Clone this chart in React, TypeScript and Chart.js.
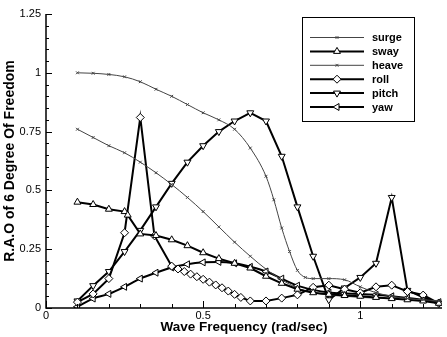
import React, { useEffect, useRef } from 'react';
import { Chart, registerables } from 'chart.js';
import { drawPoint } from 'chart.js/helpers';

Chart.register(...registerables);

// ---- data (wave frequency rad/sec, RAO) ----
const xTickValues = [0, 0.5, 1];
const yTickValues = [0, 0.25, 0.5, 0.75, 1, 1.25];
const seriesNames = ['surge', 'sway', 'heave', 'roll', 'pitch', 'yaw'];

const surge: number[][] = [
  [0.1, 1.0], [0.15, 0.998], [0.2, 0.993], [0.25, 0.983], [0.3, 0.962], [0.35, 0.93],
  [0.4, 0.9], [0.45, 0.865], [0.5, 0.83], [0.55, 0.8], [0.6, 0.76], [0.65, 0.68],
  [0.7, 0.56], [0.725, 0.46], [0.75, 0.34], [0.775, 0.24], [0.8, 0.16], [0.825, 0.13],
  [0.85, 0.125], [0.9, 0.125], [0.95, 0.12], [1.0, 0.09], [1.05, 0.065], [1.1, 0.05],
  [1.15, 0.04], [1.2, 0.035], [1.25, 0.03],
];
const sway: number[][] = [
  [0.1, 0.45], [0.15, 0.44], [0.2, 0.42], [0.25, 0.41], [0.26, 0.395], [0.3, 0.315],
  [0.35, 0.308], [0.4, 0.29], [0.45, 0.265], [0.5, 0.235], [0.55, 0.21], [0.6, 0.19],
  [0.65, 0.17], [0.7, 0.135], [0.75, 0.105], [0.8, 0.08], [0.85, 0.065], [0.9, 0.058],
  [0.95, 0.053], [1.0, 0.05], [1.05, 0.045], [1.1, 0.04], [1.15, 0.035], [1.2, 0.03],
  [1.25, 0.02],
];
const heave: number[][] = [
  [0.1, 0.76], [0.15, 0.725], [0.2, 0.69], [0.25, 0.66], [0.3, 0.62], [0.35, 0.575],
  [0.4, 0.525], [0.45, 0.47], [0.5, 0.41], [0.55, 0.345], [0.6, 0.28], [0.65, 0.22],
  [0.7, 0.165], [0.75, 0.12], [0.8, 0.085], [0.85, 0.065], [0.9, 0.055], [0.95, 0.05],
  [1.0, 0.045], [1.05, 0.042], [1.1, 0.04], [1.15, 0.035], [1.2, 0.03], [1.25, 0.025],
];
const roll: number[][] = [
  [0.1, 0.025], [0.15, 0.06], [0.2, 0.125], [0.25, 0.32], [0.3, 0.81], [0.345, 0.307],
  [0.4, 0.178], [0.42, 0.166], [0.44, 0.155], [0.46, 0.144], [0.48, 0.133], [0.5, 0.122],
  [0.52, 0.11], [0.54, 0.098], [0.56, 0.086], [0.58, 0.072], [0.6, 0.058], [0.62, 0.045],
  [0.65, 0.03], [0.7, 0.03], [0.75, 0.042], [0.8, 0.056], [0.85, 0.088], [0.9, 0.097],
  [0.95, 0.08], [1.0, 0.065], [1.05, 0.09], [1.1, 0.097], [1.15, 0.07], [1.2, 0.055],
  [1.25, 0.02],
];
const pitch: number[][] = [
  [0.1, 0.03], [0.15, 0.095], [0.2, 0.155], [0.25, 0.24], [0.3, 0.33], [0.35, 0.43],
  [0.4, 0.53], [0.45, 0.62], [0.5, 0.69], [0.55, 0.75], [0.6, 0.795], [0.65, 0.83],
  [0.7, 0.795], [0.75, 0.645], [0.8, 0.43], [0.85, 0.22], [0.9, 0.035], [0.95, 0.085],
  [1.0, 0.13], [1.05, 0.19], [1.1, 0.47], [1.15, 0.075], [1.2, 0.045], [1.25, 0.02],
];
const yaw: number[][] = [
  [0.1, 0.005], [0.15, 0.04], [0.2, 0.06], [0.25, 0.09], [0.3, 0.125], [0.35, 0.15],
  [0.4, 0.172], [0.45, 0.186], [0.5, 0.194], [0.55, 0.196], [0.6, 0.19], [0.65, 0.175],
  [0.7, 0.155], [0.75, 0.125], [0.8, 0.095], [0.85, 0.077], [0.9, 0.066], [0.95, 0.062],
  [1.0, 0.06], [1.05, 0.056], [1.1, 0.05], [1.15, 0.043], [1.2, 0.035], [1.25, 0.025],
];

const seriesData = [surge, sway, heave, roll, pitch, yaw];

type Style = {
  color: string; width: number; pointStyle: string; rotation: number; radius: number; tension: number;
};
const styles: Style[] = [
  { color: '#444', width: 1, pointStyle: 'crossRot', rotation: 0, radius: 2, tension: 0.3 },
  { color: '#000', width: 2, pointStyle: 'triangle', rotation: 0, radius: 4, tension: 0 },
  { color: '#444', width: 1, pointStyle: 'crossRot', rotation: 0, radius: 2, tension: 0.3 },
  { color: '#000', width: 2, pointStyle: 'rectRot', rotation: 0, radius: 4, tension: 0 },
  { color: '#000', width: 2, pointStyle: 'triangle', rotation: 180, radius: 4, tension: 0 },
  { color: '#000', width: 2, pointStyle: 'triangle', rotation: -90, radius: 4, tension: 0.3 },
];

const axesPlugin = {
  id: 'tecAxes',
  afterDraw(chart: any) {
    const { ctx, chartArea, scales } = chart;
    const xs = scales.x;
    const ys = scales.y;
    ctx.save();
    ctx.strokeStyle = '#000';
    ctx.lineWidth = 1.5;
    ctx.beginPath();
    ctx.moveTo(chartArea.left, chartArea.top);
    ctx.lineTo(chartArea.left, chartArea.bottom);
    ctx.lineTo(chartArea.right, chartArea.bottom);
    ctx.stroke();
    ctx.lineWidth = 1;
    ctx.beginPath();
    for (let i = 0; i <= 25; i++) {
      const v = i * 0.05;
      const py = Math.round(ys.getPixelForValue(v)) + 0.5;
      const len = i % 5 === 0 ? 6 : 3;
      ctx.moveTo(chartArea.left, py);
      ctx.lineTo(chartArea.left + len, py);
    }
    for (let i = 0; i <= 12; i++) {
      const v = i * 0.1;
      const px = Math.round(xs.getPixelForValue(v)) + 0.5;
      const len = i % 5 === 0 ? 7 : 4;
      ctx.moveTo(px, chartArea.bottom);
      ctx.lineTo(px, chartArea.bottom - len);
    }
    ctx.stroke();
    ctx.restore();
  },
};

const legendPlugin = {
  id: 'tecLegend',
  afterDraw(chart: any) {
    const { ctx } = chart;
    ctx.save();
    ctx.strokeStyle = '#000';
    ctx.lineWidth = 1;
    ctx.strokeRect(302.5, 17.5, 112, 104);
    ctx.font = 'bold 11px Arial, "Liberation Sans", sans-serif';
    ctx.textBaseline = 'middle';
    ctx.textAlign = 'left';
    chart.data.datasets.forEach((ds: any, i: number) => {
      const st = styles[i];
      const y = 37.5 + i * 13.9;
      ctx.strokeStyle = st.color;
      ctx.lineWidth = st.width;
      ctx.beginPath();
      ctx.moveTo(310, y);
      ctx.lineTo(364, y);
      ctx.stroke();
      ctx.fillStyle = '#fff';
      ctx.strokeStyle = st.color;
      ctx.lineWidth = 1;
      drawPoint(ctx, { pointStyle: st.pointStyle as any, rotation: st.rotation, radius: st.radius, borderWidth: 1 }, 337, y);
      ctx.fillStyle = '#000';
      ctx.fillText(ds.label, 372, y + 0.5);
    });
    ctx.restore();
  },
};

export default function App() {
  const canvasRef = useRef<HTMLCanvasElement | null>(null);

  useEffect(() => {
    document.body.style.margin = '0';
    const canvas = canvasRef.current;
    if (!canvas) return;
    const datasets = seriesData.map((arr, i) => {
      const st = styles[i];
      return {
        label: seriesNames[i],
        data: arr.map((p) => ({ x: p[0], y: p[1] })),
        borderColor: st.color,
        borderWidth: st.width,
        backgroundColor: '#fff',
        pointStyle: st.pointStyle,
        pointRotation: st.rotation,
        pointRadius: st.radius,
        pointBorderWidth: 1,
        pointBorderColor: st.color,
        pointBackgroundColor: '#fff',
        tension: st.tension,
        cubicInterpolationMode: st.tension > 0 ? 'monotone' : 'default',
        fill: false,
      };
    });
    const chart = new Chart(canvas, {
      type: 'line',
      data: { datasets } as any,
      options: {
        animation: false,
        responsive: false,
        maintainAspectRatio: false,
        layout: { padding: { top: 14, right: 0, bottom: 0, left: 0 } },
        plugins: { legend: { display: false }, tooltip: { enabled: false } },
        scales: {
          x: {
            type: 'linear',
            min: 0,
            max: 1.26,
            afterBuildTicks: (s: any) => { s.ticks = xTickValues.map((v) => ({ value: v })); },
            afterFit: (s: any) => { s.height = 29; },
            ticks: {
              callback: (v: any) => String(v),
              color: '#000',
              font: { family: 'Arial', size: 11 },
              padding: 1,
              maxRotation: 0,
              autoSkip: false,
            },
            grid: { display: false, drawTicks: false },
            border: { display: false },
            title: {
              display: true,
              text: 'Wave Frequency (rad/sec)',
              color: '#000',
              font: { family: 'Arial', size: 13.5, weight: 'bold' },
              padding: { top: 0, bottom: 2 },
            },
          },
          y: {
            type: 'linear',
            min: 0,
            max: 1.25,
            afterBuildTicks: (s: any) => { s.ticks = yTickValues.map((v) => ({ value: v })); },
            afterFit: (s: any) => { s.width = 46; },
            ticks: {
              callback: (v: any) => String(v),
              color: '#000',
              font: { family: 'Arial', size: 11 },
              padding: 5,
              autoSkip: false,
            },
            grid: { display: false, drawTicks: false },
            border: { display: false },
            title: {
              display: true,
              text: 'R.A.O of 6 Degree Of Freedom',
              color: '#000',
              font: { family: 'Arial', size: 14, weight: 'bold' },
              padding: { top: 2, bottom: 0 },
            },
          },
        },
      } as any,
      plugins: [axesPlugin, legendPlugin],
    });
    return () => chart.destroy();
  }, []);

  return (
    <div style={{ width: 447, height: 337, background: '#fff' }}>
      <canvas ref={canvasRef} width={447} height={337} style={{ display: 'block' }} />
    </div>
  );
}
